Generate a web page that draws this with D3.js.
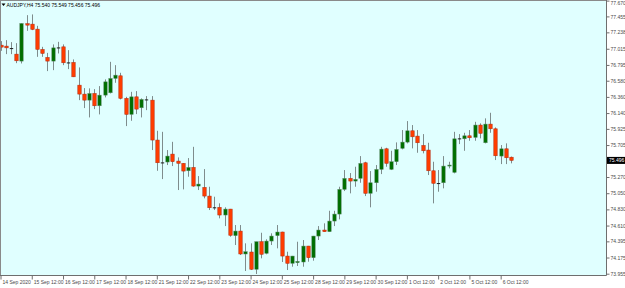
<!DOCTYPE html>
<html>
<head>
    <meta charset='utf-8'>
    <title>AUDJPY H4</title>
    <script src='https://d3js.org/d3.v7.min.js'></script>
    <style>
        body { margin: 0; background: #ffffff; }
        text { font-family: 'Liberation Sans', sans-serif; }
    </style>
</head>
<body>
<div id='chart'></div>
<script type='text/javascript'>
    // barras H4, valores
    const opens  = [77.064, 77.051, 77.024, 76.942, 76.847, 77.356, 77.350, 77.282, 77.006, 76.897,
                    76.847, 77.033, 77.041, 76.829, 76.829, 76.520, 76.398, 76.316, 76.407, 76.239,
                    76.384, 76.416, 76.611, 76.647, 76.340, 76.122, 76.361, 76.212, 76.326, 76.316,
                    75.773, 75.469, 75.474, 75.582, 75.487, 75.456, 75.355, 75.401, 75.147, 75.129,
                    75.011, 74.858, 74.858, 74.753, 74.834, 74.472, 74.535, 74.223, 74.250, 74.015,
                    74.390, 74.232, 74.399, 74.472, 74.522, 74.195, 74.096, 74.104, 74.114, 74.331,
                    74.172, 74.467, 74.549, 74.526, 74.671, 74.766, 75.102, 75.252, 75.215, 75.252,
                    75.464, 75.048, 75.192, 75.374, 75.654, 75.374, 75.478, 75.660, 75.745, 75.899,
                    75.827, 75.700, 75.637, 75.355, 75.188, 75.192, 75.419, 75.333, 75.796, 75.790,
                    75.831, 75.809, 75.977, 75.736, 75.990, 75.926, 75.555, 75.654, 75.540];
    const highs  = [77.119, 77.132, 77.105, 77.091, 77.362, 77.472, 77.482, 77.327, 77.041, 76.959,
                    77.074, 77.109, 77.074, 76.996, 76.870, 76.761, 76.480, 76.476, 76.466, 76.507,
                    76.598, 76.837, 76.792, 76.688, 76.361, 76.429, 76.439, 76.340, 76.371, 76.371,
                    75.899, 75.885, 75.637, 75.749, 75.537, 75.460, 75.528, 75.681, 75.283, 75.378,
                    75.138, 75.002, 74.912, 74.858, 74.836, 74.617, 74.617, 74.368, 74.368, 74.390,
                    74.512, 74.423, 74.504, 74.617, 74.526, 74.254, 74.197, 74.390, 74.413, 74.333,
                    74.469, 74.603, 74.640, 74.811, 74.811, 75.138, 75.365, 75.324, 75.410, 75.555,
                    75.478, 75.351, 75.433, 75.681, 75.668, 75.627, 75.741, 75.909, 76.031, 75.977,
                    75.909, 75.854, 75.736, 75.478, 75.365, 75.555, 75.478, 75.885, 75.854, 75.872,
                    75.909, 76.021, 76.000, 76.068, 76.144, 75.945, 75.705, 75.728, 75.549];
    const lows   = [76.987, 76.942, 76.942, 76.819, 76.815, 77.259, 77.268, 76.905, 76.905, 76.711,
                    76.724, 76.951, 76.792, 76.738, 76.630, 76.316, 76.208, 76.081, 76.194, 76.122,
                    76.353, 76.407, 76.552, 76.326, 75.963, 76.035, 76.126, 76.081, 76.180, 75.637,
                    75.355, 75.242, 75.433, 75.419, 75.093, 75.102, 75.274, 75.138, 75.093, 74.980,
                    74.821, 74.821, 74.708, 74.603, 74.458, 74.345, 74.209, 73.992, 74.005, 73.951,
                    74.164, 74.219, 74.345, 74.300, 74.114, 74.005, 74.050, 74.060, 74.050, 74.118,
                    74.132, 74.413, 74.524, 74.524, 74.603, 74.694, 75.079, 75.048, 75.138, 75.192,
                    75.011, 74.858, 75.070, 75.310, 75.410, 75.365, 75.433, 75.646, 75.728, 75.660,
                    75.600, 75.592, 75.297, 74.912, 75.070, 75.116, 75.388, 75.320, 75.718, 75.627,
                    75.763, 75.763, 75.796, 75.728, 75.872, 75.501, 75.446, 75.446, 75.456];
    const closes = [77.037, 77.027, 77.022, 76.851, 77.359, 77.336, 77.278, 77.006, 76.951, 76.847,
                    77.027, 77.031, 76.824, 76.827, 76.633, 76.398, 76.316, 76.407, 76.239, 76.384,
                    76.565, 76.611, 76.656, 76.340, 76.122, 76.361, 76.194, 76.326, 76.324, 75.773,
                    75.464, 75.467, 75.555, 75.478, 75.456, 75.351, 75.401, 75.147, 75.174, 75.011,
                    74.852, 74.856, 74.753, 74.834, 74.477, 74.535, 74.223, 74.254, 74.015, 74.390,
                    74.219, 74.399, 74.467, 74.522, 74.195, 74.096, 74.195, 74.123, 74.331, 74.172,
                    74.467, 74.549, 74.526, 74.671, 74.766, 75.102, 75.252, 75.215, 75.238, 75.456,
                    75.048, 75.192, 75.374, 75.650, 75.456, 75.478, 75.646, 75.745, 75.899, 75.817,
                    75.736, 75.627, 75.355, 75.184, 75.186, 75.419, 75.433, 75.790, 75.794, 75.831,
                    75.804, 75.977, 75.864, 75.990, 75.926, 75.559, 75.654, 75.532, 75.496];

    // eixo de preços (direita)
    const priceTicks = [77.670, 77.455, 77.238, 77.015, 76.795, 76.580, 76.360, 76.140, 75.925,
                        75.705, 75.270, 75.050, 74.830, 74.610, 74.395, 74.175, 73.955];

    // eixo de datas (índice da barra e rótulo)
    const dateIdx    = [0, 6, 12, 18, 24, 30, 36, 42, 48, 54, 60, 66, 72, 78, 84, 90, 96];
    const dateLabels = ['14 Sep 2020', '15 Sep 12:00', '16 Sep 12:00', '17 Sep 12:00', '18 Sep 12:00',
                        '21 Sep 12:00', '22 Sep 12:00', '23 Sep 12:00', '24 Sep 12:00', '25 Sep 12:00',
                        '28 Sep 12:00', '29 Sep 12:00', '30 Sep 12:00', '1 Oct 12:00', '2 Oct 12:00',
                        '5 Oct 12:00', '6 Oct 12:00'];

    const symbol = 'AUDJPY,H4';

    const W = 625, H = 288;
    const w = 606, h = 275;   // área útil (borda direita e inferior)

    let svg = d3.select('#chart')
            .append('svg')
                .attr('width', W)
                .attr('height', H);

    svg.append('rect')
       .attr('width', W).attr('height', H)
       .attr('fill', '#ffffff');

    svg.append('rect')
       .attr('x', 0).attr('y', 0)
       .attr('width', w).attr('height', h)
       .attr('fill', '#e0ffff');

    let data = opens.map((o, i) => ({i: i, o: o, h: highs[i], l: lows[i], c: closes[i]}));

    let xScale = d3.scaleLinear().domain([0, 116]).range([0.5, 0.5 + 5.21 * 116]);
    let yScale = d3.scaleLinear().domain([73.955, 77.670]).range([273.7, 0.6]);

    const bw = 3.4;

    // pavios
    svg.selectAll('line.wick')
       .data(data)
       .enter()
       .append('line')
       .attr('class', 'wick')
       .attr('x1', (d) => Math.round(xScale(d.i)) + 0.5)
       .attr('x2', (d) => Math.round(xScale(d.i)) + 0.5)
       .attr('y1', (d) => yScale(d.h))
       .attr('y2', (d) => yScale(d.l))
       .attr('stroke', '#7f8c8c')
       .attr('stroke-width', 1);

    // corpos
    svg.selectAll('rect.body')
       .data(data)
       .enter()
       .append('rect')
       .attr('class', 'body')
       .attr('x', (d) => Math.round(xScale(d.i)) + 0.5 - bw / 2)
       .attr('y', (d) => yScale(Math.max(d.o, d.c)))
       .attr('width', bw)
       .attr('height', (d) => Math.max(1, Math.abs(yScale(d.o) - yScale(d.c))))
       .attr('fill', (d) => {
            if (Math.abs(d.o - d.c) < 0.004) return '#1a1a1a';
            return d.c > d.o ? '#006e00' : '#ff3c00';
       })
       .attr('stroke', (d) => {
            if (Math.abs(d.o - d.c) < 0.004) return 'none';
            return d.c > d.o ? '#5f8a6a' : '#b02a10';
       })
       .attr('stroke-width', 0.5);

    // bordas
    svg.append('line')
       .attr('x1', 0.5).attr('x2', 0.5).attr('y1', 0).attr('y2', h)
       .attr('stroke', '#8a8a8a');
    svg.append('line')
       .attr('x1', 0).attr('x2', w).attr('y1', 0.5).attr('y2', 0.5)
       .attr('stroke', '#8a8a8a');

    // Eixo Y (direita)
    let yAxis = d3.axisRight(yScale)
                  .tickValues(priceTicks)
                  .tickSize(3)
                  .tickPadding(1)
                  .tickFormat(d3.format('.3f'));

    let gy = svg.append('g')
       .attr('transform', `translate(${w + 0.5},0)`)
       .call(yAxis);
    gy.select('.domain').attr('stroke', '#6e6e6e').attr('d', `M0,0V${h + 0.5}`);
    gy.selectAll('.tick line').attr('stroke', '#6e6e6e');
    gy.selectAll('.tick text')
      .attr('font-size', '5px')
      .attr('fill', '#4a4a4a')
      .attr('dy', (d) => d === priceTicks[0] ? '0.85em' : '0.32em')
      .attr('font-family', 'Liberation Sans, sans-serif');

    // Eixo X
    let xAxis = d3.axisBottom(xScale)
                  .tickValues(dateIdx)
                  .tickSize(4)
                  .tickFormat((d, k) => dateLabels[k]);

    let gx = svg.append('g')
       .attr('transform', `translate(0,${h + 0.5})`)
       .call(xAxis);
    gx.select('.domain').attr('stroke', '#6e6e6e').attr('d', `M0,0H${w + 0.5}`);
    gx.selectAll('.tick line').attr('stroke', '#6e6e6e');
    gx.selectAll('.tick text')
      .attr('text-anchor', 'start')
      .attr('x', 1.5)
      .attr('y', 5)
      .attr('dy', '0.71em')
      .attr('font-size', '5px')
      .attr('fill', '#4a4a4a')
      .attr('font-family', 'Liberation Sans, sans-serif');

    // preço atual
    let last = data[data.length - 1];
    svg.append('rect')
       .attr('x', w + 1)
       .attr('y', yScale(last.c) - 3.5)
       .attr('width', 18)
       .attr('height', 7)
       .attr('fill', '#000000');
    svg.append('text')
       .attr('x', w + 3)
       .attr('y', yScale(last.c))
       .attr('dy', '0.35em')
       .attr('font-size', '5px')
       .attr('fill', '#ffffff')
       .text(d3.format('.3f')(last.c));

    // cabeçalho
    svg.append('path')
       .attr('d', 'M1.5,3.5 L5.5,3.5 L3.5,6 Z')
       .attr('fill', '#000000');
    svg.append('text')
       .attr('x', 6.5)
       .attr('y', 5)
       .attr('dy', '0.35em')
       .attr('font-size', '5px')
       .attr('fill', '#000000')
       .text(`${symbol}  ${[last.o, last.h, last.l, last.c].map(d3.format('.3f')).join(' ')}`);
</script>
</body>
</html>
